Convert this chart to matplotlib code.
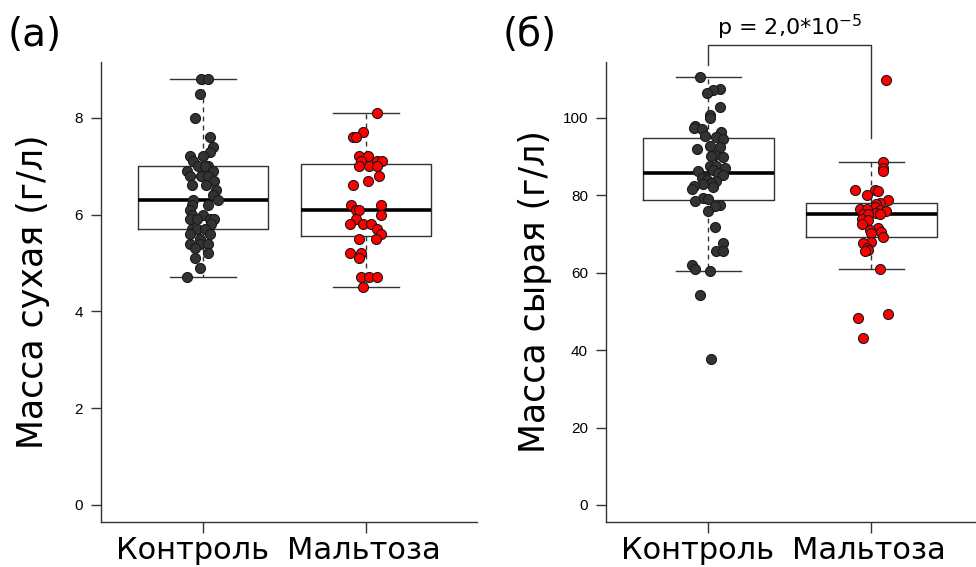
import numpy as np
import matplotlib.pyplot as plt

plt.rcParams['font.family'] = ['DejaVu Sans']

# -------------------------------
# Data
# -------------------------------
categories = ['Контроль', 'Мальтоза']

# (а) dry mass, g/l
dry_control = [8.8, 8.8, 8.5, 8.0, 7.6, 7.4, 7.3, 7.2, 7.2, 7.1, 7.0, 7.0, 7.0,
               6.9, 6.9, 6.8, 6.8, 6.8, 6.7, 6.6, 6.6, 6.5, 6.4, 6.3, 6.3, 6.2,
               6.2, 6.1, 6.0, 6.0, 5.9, 5.9, 5.9, 5.9, 5.8, 5.7, 5.7, 5.7, 5.6,
               5.5, 5.6, 5.4, 5.4, 5.4, 5.3, 5.2, 5.1, 4.9, 4.7]
dry_control_jit = [-0.01, 0.03, -0.02, -0.05, 0.04, 0.06, 0.04, 0.00, -0.08,
                   -0.06, 0.03, -0.03, 0.01, -0.10, 0.06, -0.08, -0.01, 0.03,
                   0.07, -0.07, 0.02, 0.08, 0.06, 0.09, -0.06, 0.03, -0.07,
                   -0.08, -0.07, 0.00, -0.08, -0.04, 0.04, 0.07, 0.05, -0.07,
                   -0.04, 0.01, -0.08, -0.02, 0.04, -0.08, -0.02, 0.03, -0.05,
                   0.03, -0.05, -0.02, -0.10]

dry_maltose = [8.1, 7.7, 7.6, 7.6, 7.2, 7.2, 7.1, 7.1, 7.1, 7.0, 7.0, 7.0, 6.8,
               6.7, 6.6, 6.2, 6.2, 6.1, 6.1, 6.0, 5.9, 5.8, 5.8, 5.8, 5.7, 5.6,
               5.5, 5.5, 5.2, 5.2, 5.1, 4.7, 4.7, 4.7, 4.5]
dry_maltose_jit = [0.07, -0.02, -0.08, -0.06, -0.04, 0.01, -0.03, 0.07, 0.10,
                   -0.04, 0.02, 0.07, 0.08, 0.01, -0.08, -0.09, 0.09, -0.06,
                   -0.04, 0.09, -0.06, -0.10, -0.02, 0.03, 0.07, 0.09, -0.04,
                   0.06, -0.10, -0.03, -0.04, -0.03, 0.02, 0.07, -0.02]

# (б) wet mass, g/l
wet_control = [110.4, 107.3, 107.1, 106.5, 102.9, 100.6, 100.0, 97.9, 97.4,
               97.2, 96.3, 95.3, 95.1, 94.6, 92.7, 92.4, 92.0, 90.5, 90.2, 89.8,
               87.6, 87.5, 86.9, 86.6, 86.3, 85.8, 85.3, 84.8, 84.5, 84.0, 83.6,
               83.2, 82.9, 82.3, 82.0, 81.7, 79.3, 79.1, 78.4, 77.5, 77.1, 75.8,
               71.7, 67.6, 65.6, 65.6, 62.0, 60.9, 60.5, 54.1, 37.6]
wet_control_jit = [-0.05, 0.07, 0.03, -0.01, 0.07, 0.01, 0.01, -0.08, -0.09,
                   -0.04, 0.08, -0.02, 0.05, 0.09, 0.01, 0.07, -0.07, 0.04,
                   0.02, 0.09, 0.01, 0.05, 0.10, 0.03, -0.06, 0.06, 0.09, -0.02,
                   -0.04, -0.01, 0.05, 0.02, -0.03, -0.09, 0.03, -0.10, -0.03,
                   0.00, -0.08, 0.07, 0.04, 0.00, 0.04, 0.09, 0.05, 0.09, -0.10,
                   -0.08, 0.01, -0.05, 0.02]

wet_maltose = [109.8, 88.6, 86.9, 86.2, 81.3, 81.3, 81.0, 80.1, 78.8, 78.0,
               77.7, 76.9, 76.5, 76.5, 76.2, 75.8, 75.4, 75.1, 75.1, 75.1, 73.8,
               73.7, 72.5, 71.5, 71.1, 70.5, 70.2, 69.1, 67.9, 67.6, 66.3, 65.9,
               65.6, 61.0, 49.2, 48.2, 43.0]
wet_maltose_jit = [0.09, 0.07, 0.07, 0.07, -0.10, 0.02, 0.04, -0.03, 0.10,
                   0.05, 0.03, 0.02, -0.07, -0.03, 0.05, 0.09, 0.03, -0.05,
                   -0.02, 0.05, -0.06, -0.02, -0.06, 0.04, -0.01, 0.06, 0.00,
                   0.07, 0.00, -0.05, -0.03, -0.02, -0.04, 0.05, 0.10, -0.08,
                   -0.05]

p_text = r'p = 2,0*10$^{\mathdefault{-5}}$'


def r_box_stats(values):
    """Box statistics the way R's boxplot.stats computes them (fivenum hinges)."""
    v = np.sort(np.asarray(values, dtype=float))
    n = len(v)
    n4 = np.floor((n + 3) / 2) / 2
    d = np.array([1, n4, (n + 1) / 2, n + 1 - n4, n]) - 1
    five = 0.5 * (v[np.floor(d).astype(int)] + v[np.ceil(d).astype(int)])
    iqr = five[3] - five[1]
    lo, hi = five[1] - 1.5 * iqr, five[3] + 1.5 * iqr
    return dict(med=five[2], q1=five[1], q3=five[3],
                whislo=v[v >= lo].min(), whishi=v[v <= hi].max(), fliers=[])


def draw_panel(ax, groups, jitters, ylim, yticks, xlim):
    stats = [r_box_stats(g) for g in groups]
    ax.bxp(stats, positions=[1, 2], widths=0.8, capwidths=0.4,
           showfliers=False,
           boxprops=dict(color='#333333', lw=1.0),
           whiskerprops=dict(color='#333333', lw=1.0, linestyle=(0, (3.5, 3))),
           capprops=dict(color='#333333', lw=1.0),
           medianprops=dict(color='black', lw=2.6))
    colors = ['#333333', '#ff0000']
    for i, (g, j) in enumerate(zip(groups, jitters)):
        ax.scatter(np.array(j) + i + 1, g, s=52, c=colors[i],
                   edgecolors='#1a1a1a', linewidths=0.8, zorder=3)
    ax.set_xlim(*xlim)
    ax.set_ylim(*ylim)
    ax.set_yticks(yticks)
    # tick marks at the groups, labels (as minor ticks) a little to the left
    ax.set_xticks([1, 2])
    ax.set_xticklabels([])
    ax.set_xticks([1 - 0.067, 2 - 0.015], minor=True)
    ax.set_xticklabels(categories, minor=True, fontsize=22)
    for lab in ax.get_yticklabels():
        lab.set_fontfamily('Liberation Sans')
        lab.set_fontsize(11)
    ax.spines['top'].set_visible(False)
    ax.spines['right'].set_visible(False)
    for s in ['left', 'bottom']:
        ax.spines[s].set_color('#333333')
        ax.spines[s].set_linewidth(1.0)
    ax.tick_params(axis='y', direction='out', length=7, width=1.0,
                   color='#333333', pad=6)
    ax.tick_params(axis='x', which='major', direction='out', length=8,
                   width=1.0, color='#333333')
    ax.tick_params(axis='x', which='minor', length=0, pad=10)


fig = plt.figure(figsize=(9.76, 5.67), dpi=100)
ax1 = fig.add_axes([0.1035, 0.0794, 0.3852, 0.8113])
ax2 = fig.add_axes([0.6209, 0.0794, 0.3791, 0.8113])

draw_panel(ax1, [dry_control, dry_maltose], [dry_control_jit, dry_maltose_jit],
           (-0.352, 9.152), [0, 2, 4, 6, 8], (0.374, 2.681))
draw_panel(ax2, [wet_control, wet_maltose], [wet_control_jit, wet_maltose_jit],
           (-4.4, 114.4), [0, 20, 40, 60, 80, 100], (0.374, 2.64))

ax1.set_ylabel('Масса сухая (г/л)', fontsize=25)
ax2.set_ylabel('Масса сырая (г/л)', fontsize=25)
ax1.yaxis.set_label_coords(-0.135, 0.5)
ax2.yaxis.set_label_coords(-0.145, 0.5)

# significance bracket
ax2.plot([1, 1, 2, 2], [113.5, 118.8, 118.8, 94.8], color='#333333', lw=1.0,
         clip_on=False)
ax2.text(1.5, 121.2, p_text, ha='center', va='baseline', fontsize=16,
         clip_on=False)

fig.text(0.008, 1 - 46 / 567, '(а)', fontsize=28, va='baseline')
fig.text(0.515, 1 - 46 / 567, '(б)', fontsize=28, va='baseline')

fig.savefig('out.png', dpi=100)
